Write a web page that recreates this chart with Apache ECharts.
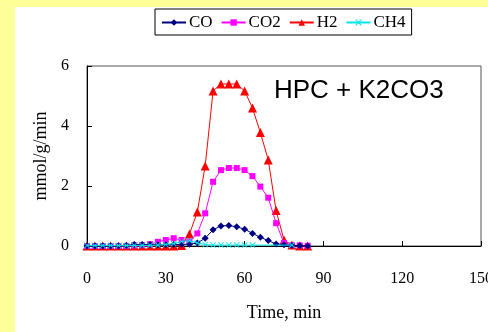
<!DOCTYPE html>
<html>
<head>
<meta charset="utf-8">
<script src="https://cdn.jsdelivr.net/npm/echarts@6/dist/echarts.min.js"></script>
<style>
  html, body { margin: 0; padding: 0; }
  #chart { width: 488px; height: 332px; }
</style>
</head>
<body>
<div id="chart"></div>
<script>
// sampling times, min
var times = [0, 3, 6, 9, 12, 15, 18, 21, 24, 27, 30, 33, 36, 39, 42, 45, 48, 51, 54, 57, 60, 63, 66, 69, 72, 75, 78, 81, 84];
// mmol/g/min
var coData  = [0, 0, 0, 0, 0, 0.02, 0.05, 0.05, 0.05, 0.04, 0.04, 0.05, 0.05, 0.06, 0.1, 0.26, 0.54, 0.67, 0.68, 0.64, 0.56, 0.42, 0.29, 0.18, 0.07, 0.04, 0.02, 0.01, 0];
var co2Data = [0, 0, 0, 0, 0, 0, 0.02, 0.03, 0.06, 0.14, 0.2, 0.26, 0.2, 0.15, 0.42, 1.09, 2.14, 2.53, 2.6, 2.6, 2.53, 2.33, 1.98, 1.61, 0.76, 0.1, 0.03, 0.02, 0.01];
var h2Data  = [0, 0, 0, 0, 0, 0, 0, 0, 0, 0, 0, 0, 0.02, 0.4, 1.13, 2.67, 5.17, 5.4, 5.4, 5.4, 5.17, 4.6, 3.78, 2.87, 1.18, 0.2, 0.03, 0, 0];
var ch4Data = [0.02, 0.02, 0.02, 0.02, 0.02, 0.02, 0.02, 0.02, 0.02, 0.03, 0.05, 0.08, 0.15, 0.18, 0.1, 0.05, 0.03, 0.03, 0.03, 0.03, 0.03, 0.03, null, null, null, null, 0.03, null, null];
var seriesNames = ['CO', 'CO2', 'H2', 'CH4'];
var xTicks = [0, 150, 30];   // min, max, interval
var yTicks = [0, 6, 2];

function pairs(vals) {
  return vals.map(function (v, i) { return [times[i], v]; });
}

var serif = '"Liberation Serif", "DejaVu Serif", serif';
var xShape = 'path://M0,1L1,0L5,4L9,0L10,1L6,5L10,9L9,10L5,6L1,10L0,9L4,5Z';

const chart = echarts.init(document.getElementById('chart'));
var option = {
  backgroundColor: '#FFFF99',
  animation: false,
  graphic: [{
    type: 'rect',
    z: -10,
    shape: { x: 15, y: 7, width: 473, height: 325 },
    style: { fill: '#fff' }
  }, {
    type: 'text',
    left: 274,
    top: 78,
    style: {
      text: 'HPC + K2CO3',
      font: '26px "Liberation Sans", Arial, sans-serif',
      fill: '#000'
    }
  }],
  legend: {
    data: seriesNames,
    left: 155,
    top: 9,
    padding: [5, 6, 4, 6],
    itemGap: 8,
    itemWidth: 24,
    itemHeight: 8,
    borderColor: '#000',
    borderWidth: 1,
    textStyle: { fontFamily: serif, fontSize: 17, color: '#000', padding: [0, 0, 0, -2] }
  },
  grid: {
    left: 87,
    right: 7,
    top: 66,
    bottom: 86,
    containLabel: false,
    outerBoundsMode: 'none',
    show: true,
    borderColor: '#555',
    borderWidth: 1
  },
  xAxis: {
    type: 'value',
    min: xTicks[0],
    max: xTicks[1],
    interval: xTicks[2],
    name: 'Time, min',
    nameLocation: 'middle',
    nameGap: 58,
    nameTextStyle: { fontFamily: serif, fontSize: 18, fontWeight: 'normal', color: '#000' },
    axisLine: { lineStyle: { color: '#000', width: 1 } },
    axisTick: { inside: true, length: 5, lineStyle: { color: '#000' } },
    axisLabel: { fontFamily: serif, fontSize: 16, color: '#000', margin: 25, hideOverlap: false },
    splitLine: { show: false }
  },
  yAxis: {
    type: 'value',
    min: yTicks[0],
    max: yTicks[1],
    interval: yTicks[2],
    name: 'mmol/g/min',
    nameLocation: 'middle',
    nameGap: 35,
    nameTextStyle: { fontFamily: serif, fontSize: 18, fontWeight: 'normal', color: '#000' },
    axisLine: { lineStyle: { color: '#000', width: 1 } },
    axisTick: { inside: true, length: 5, lineStyle: { color: '#000' } },
    axisLabel: { fontFamily: serif, fontSize: 16, color: '#000', margin: 18 },
    splitLine: { show: false }
  },
  series: [{
    name: 'CO',
    type: 'line',
    data: pairs(coData),
    symbol: 'diamond',
    symbolSize: 7,
    color: '#000080',
    lineStyle: { width: 1 },
    z: 4
  }, {
    name: 'CO2',
    type: 'line',
    data: pairs(co2Data),
    symbol: 'rect',
    symbolSize: 6,
    color: '#FF00FF',
    lineStyle: { width: 1 },
    z: 3
  }, {
    name: 'H2',
    type: 'line',
    data: pairs(h2Data),
    symbol: 'triangle',
    symbolSize: 9,
    color: '#FF0000',
    lineStyle: { width: 1 },
    z: 2
  }, {
    name: 'CH4',
    type: 'line',
    data: pairs(ch4Data),
    connectNulls: true,
    symbol: xShape,
    symbolSize: 6,
    color: '#00E5E5',
    lineStyle: { width: 1 },
    z: 5
  }]
};
chart.setOption(option);
</script>
</body>
</html>
